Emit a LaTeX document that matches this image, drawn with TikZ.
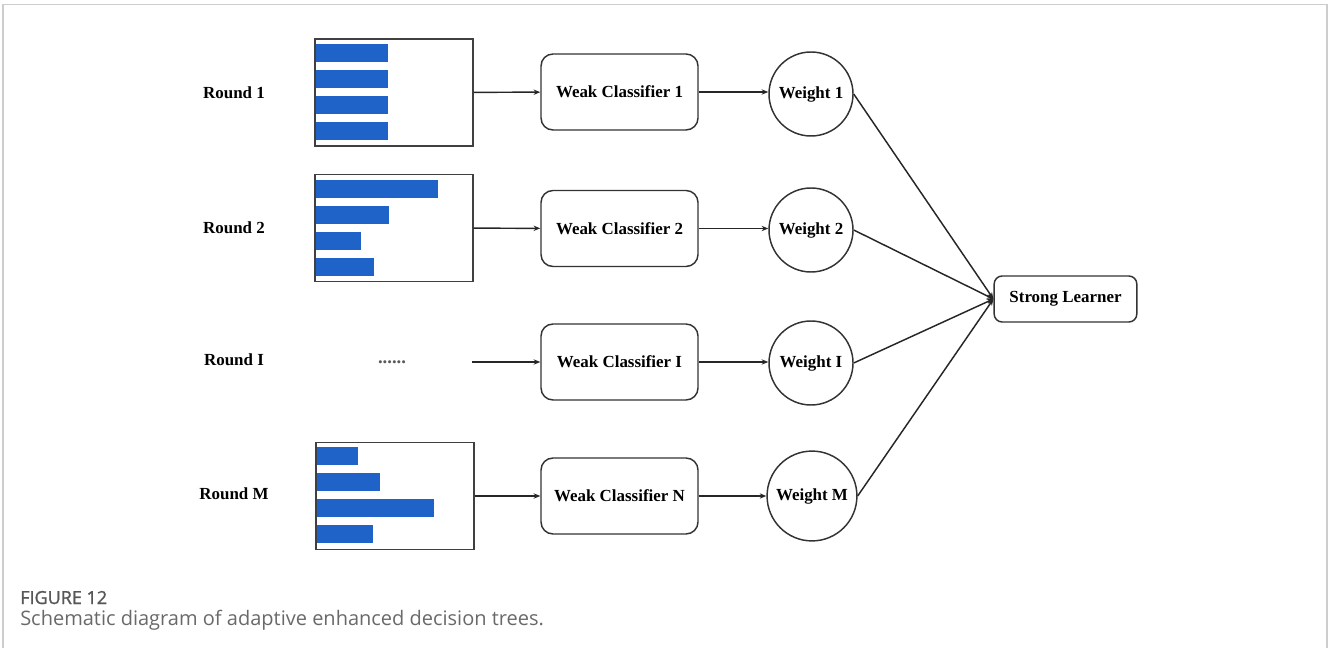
\documentclass[tikz,border=0pt]{standalone}
\usepackage{fontspec}
\setmainfont{Liberation Serif}
\newfontfamily\capfont{Open Sans}
\newfontfamily\capheadfont[FakeBold=1.3]{Open Sans}
\usetikzlibrary{arrows.meta,calc}
\definecolor{barblue}{RGB}{31,99,201}
\definecolor{framegray}{RGB}{205,205,205}
\definecolor{capgray}{RGB}{105,105,105}
\tikzset{
  lbl/.style={font=\fontsize{12.7}{15}\selectfont\bfseries},
  databox/.style={draw=black!75,line width=1.1pt,minimum width=118.5pt,minimum height=80pt,inner sep=0pt},
  weakbox/.style={lbl,draw=black!80,line width=1.1pt,rounded corners=9pt,minimum width=117.75pt,minimum height=57pt},
  weightnode/.style={lbl,draw=black!80,line width=1.1pt,circle,inner sep=5pt,minimum size=63pt},
  strongbox/.style={lbl,draw=black!80,line width=1.1pt,rounded corners=6pt,minimum width=107pt,minimum height=34.5pt},
  bar/.style={fill=barblue},
  link/.style={-{Stealth[length=5pt,width=4pt]},line width=1.1pt,black!85},
  captext/.style={anchor=base west,inner sep=0pt,text=capgray,font=\capfont\fontsize{15}{17}\selectfont},
}

\begin{document}
\begin{tikzpicture}[x=0.75pt,y=-0.75pt]
  \useasboundingbox (0,0) rectangle (1328,648);
  % frame of the figure panel
  \draw[framegray,line width=1.1pt] (3,648) -- (3,4.5) -- (1327,4.5) -- (1327,648);

  % round labels
  \node[lbl] (r1) at (234,93) {Round 1};
  \node[lbl] (r2) at (234,228) {Round 2};
  \node[lbl] (ri) at (234,360) {Round I};
  \node[lbl] (rm) at (234,494) {Round M};

  % sample weight boxes
  \node[databox] (d1) at (394,92.5) {};
  \node[databox] (d2) at (394,228) {};
  \node[databox] (dm) at (395,496) {};
  \node[lbl,font=\fontsize{14}{15}\selectfont\bfseries,text=black!65] (dots) at (392,362) {......};
  \coordinate (di) at (472,362);

  \foreach \len [count=\i from 0] in {72,72,72,72}
    \fill[bar] ($(d1.north west)+(2,{6+26*\i})$) rectangle ++(\len,18);
  \foreach \len [count=\i from 0] in {122,73,45,58}
    \fill[bar] ($(d2.north west)+(2,{6+26*\i})$) rectangle ++(\len,18);
  \foreach \len [count=\i from 0] in {41,63,117,56}
    \fill[bar] ($(dm.north west)+(2,{5+26*\i})$) rectangle ++(\len,18);

  % weak classifiers
  \node[weakbox] (c1) at (619.5,92) {Weak Classifier 1};
  \node[weakbox] (c2) at (619.5,228.5) {Weak Classifier 2};
  \node[weakbox] (ci) at (619.5,362) {Weak Classifier I};
  \node[weakbox] (cn) at (619.5,496) {Weak Classifier N};

  % weights
  \node[weightnode] (w1) at (811,94) {Weight 1};
  \node[weightnode] (w2) at (811,230) {Weight 2};
  \node[weightnode] (wi) at (811,363) {Weight I};
  \node[weightnode] (wm) at (812,496) {Weight M};

  \node[strongbox] (sl) at (1065.5,299) {Strong Learner};

  \draw[link] (d1) -- (c1);
  \draw[link] (d2) -- (c2);
  \draw[link] (di) -- (ci);
  \draw[link] (dm) -- (cn);
  \draw[link] (c1) -- (c1 -| w1.west);
  \draw[link] (c2) -- (c2 -| w2.west);
  \draw[link] (ci) -- (ci -| wi.west);
  \draw[link] (cn) -- (wm);
  \draw[link] (w1.east) -- (sl.west);
  \draw[link] (w2.east) -- (sl.west);
  \draw[link] (wi.east) -- (sl.west);
  \draw[link] (wm.east) -- (sl.west);

  % caption
  \node[captext,font=\capheadfont\fontsize{13.5}{17}\selectfont,text=black!66] (fig) at (20,604) {FIGURE 12};
  \node[captext] (cap) at (20,625) {Schematic diagram of adaptive enhanced decision trees.};
\end{tikzpicture}
\end{document}
